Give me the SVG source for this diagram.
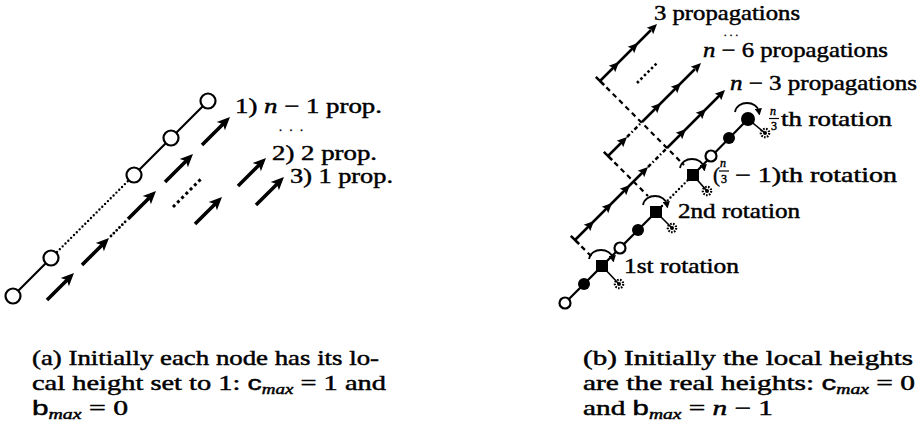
<svg xmlns="http://www.w3.org/2000/svg" xmlns:xlink="http://www.w3.org/1999/xlink" width="923" height="427" viewBox="0 0 923 427">
<style>
.t{font-family:"Liberation Serif","Times New Roman",serif;font-size:21px;fill:#000;stroke:#000;stroke-width:0.45}
.it{font-style:italic}
.sub{font-size:14px;font-style:italic}
.sf{font-family:"Liberation Sans",Arial,sans-serif}
.fr{font-size:12px}
.el{font-size:12px}
.ln{stroke:#000;stroke-width:2.2;fill:none}
.dot{stroke:#000;stroke-width:2.4;stroke-linecap:round;stroke-dasharray:0 4;fill:none}
.arL{stroke:#000;stroke-width:3.6;fill:none}
.pr{stroke:#000;stroke-width:2.5;fill:none}
.dd{stroke:#000;stroke-width:2.5;fill:none;stroke-dasharray:4 2.5 1.5 2.5}
.da{stroke:#000;stroke-width:2.2;fill:none;stroke-dasharray:5 4}
.oc{fill:#fff;stroke:#000;stroke-width:2.2}
.fc{fill:#000}
.arc{stroke:#000;stroke-width:1.8;fill:none;marker-end:url(#rh)}
</style>
<defs>
<path id="hL" d="M0,0 L-13,-5.8 L-10,0 L-13,5.8 Z" fill="#000"/>
<path id="hR" d="M0,0 L-10,-4.6 L-8,0 L-10,4.6 Z" fill="#000"/>
<marker id="rh" viewBox="0 0 8 8" refX="4" refY="4" markerWidth="7" markerHeight="7" markerUnits="userSpaceOnUse" orient="auto"><path d="M0,0 L8,4 L0,8 Z" fill="#000"/></marker>
<g id="gear"><circle r="4.2" fill="none" stroke="#000" stroke-width="2.2" stroke-dasharray="1.6 1.3"/><circle r="2" fill="#000"/></g>
</defs>

<!-- ===== (a) left diagram ===== -->
<g id="connectors-a">
  <line class="ln" x1="13" y1="296" x2="51" y2="258"/>
  <line class="dot" x1="57" y1="252" x2="129" y2="180"/>
  <line class="ln" x1="134" y1="175" x2="208" y2="101"/>
  <!-- row 1 : n-1 prop. -->
  <line class="arL" x1="47" y1="300" x2="67.6" y2="279.4"/><use xlink:href="#hL" transform="translate(74,273) rotate(-45)"/>
  <line class="arL" x1="82" y1="265" x2="102.6" y2="244.4"/><use xlink:href="#hL" transform="translate(109,238) rotate(-45)"/>
  <line class="dot" x1="111" y1="236" x2="127" y2="220" style="stroke-width:2.8"/>
  <line class="arL" x1="128" y1="219" x2="149.6" y2="197.4"/><use xlink:href="#hL" transform="translate(156,191) rotate(-45)"/>
  <line class="arL" x1="165" y1="182" x2="186.6" y2="160.4"/><use xlink:href="#hL" transform="translate(193,154) rotate(-45)"/>
  <line class="arL" x1="202" y1="145" x2="223.6" y2="123.4"/><use xlink:href="#hL" transform="translate(230,117) rotate(-45)"/>
  <!-- ellipsis between rows -->
  <line x1="173" y1="207" x2="202" y2="178" style="stroke:#000;stroke-width:3;stroke-dasharray:3 3"/>
  <!-- row 2 : 2 prop. -->
  <line class="arL" x1="195" y1="224" x2="215.6" y2="203.4"/><use xlink:href="#hL" transform="translate(222,197) rotate(-45)"/>
  <line class="arL" x1="238" y1="186" x2="259.6" y2="164.4"/><use xlink:href="#hL" transform="translate(266,158) rotate(-45)"/>
  <!-- row 3 : 1 prop. -->
  <line class="arL" x1="256" y1="205" x2="277.6" y2="183.4"/><use xlink:href="#hL" transform="translate(284,177) rotate(-45)"/>
</g>
<g id="a-node1"><circle class="oc" cx="13" cy="296" r="7.5"/></g>
<g id="a-node2"><circle class="oc" cx="51" cy="258" r="7.5"/></g>
<g id="a-node3"><circle class="oc" cx="134" cy="175" r="7.5"/></g>
<g id="a-node4"><circle class="oc" cx="171" cy="138" r="7.5"/></g>
<g id="a-node5"><circle class="oc" cx="208" cy="101" r="7.5"/></g>
<g id="a-labels">
  <text class="t" x="235" y="113" textLength="147" lengthAdjust="spacingAndGlyphs">1) <tspan class="it">n</tspan> − 1 prop.</text>
  <text class="t el" x="279" y="131" textLength="24" lengthAdjust="spacing">...</text>
  <text class="t" x="272" y="160" textLength="105" lengthAdjust="spacingAndGlyphs">2) 2 prop.</text>
  <text class="t" x="290" y="183" textLength="103" lengthAdjust="spacingAndGlyphs">3) 1 prop.</text>
</g>

<!-- ===== (b) right diagram ===== -->
<g id="connectors-b">
  <!-- node chain -->
  <line class="ln" x1="565" y1="303" x2="656" y2="212"/>
  <line class="dot" x1="662" y1="206" x2="688" y2="180"/>
  <line class="ln" x1="693" y1="175" x2="748" y2="119"/>
  <!-- dashed links rotation -> propagation start -->
  <line class="da" x1="600" y1="81" x2="684" y2="165"/>
  <line class="da" x1="608" y1="156" x2="648" y2="196"/>
  <line class="da" x1="575" y1="240" x2="593" y2="258"/>
  <!-- T-bars -->
  <line class="pr" x1="595.8" y1="76.8" x2="604.2" y2="85.2"/>
  <line class="pr" x1="603.8" y1="151.8" x2="612.2" y2="160.2"/>
  <line class="pr" x1="570.8" y1="235.8" x2="579.2" y2="244.2"/>
  <!-- 3 propagations -->
  <line class="pr" x1="600" y1="81" x2="651" y2="30"/>
  <use xlink:href="#hR" transform="translate(619,62) rotate(-45)"/>
  <use xlink:href="#hR" transform="translate(638,43) rotate(-45)"/>
  <use xlink:href="#hR" transform="translate(657,24) rotate(-45)"/>
  <line x1="637" y1="83" x2="657" y2="63" style="stroke:#000;stroke-width:2.6;stroke-dasharray:2.5 2.5"/>
  <!-- n-6 propagations -->
  <line class="pr" x1="608" y1="156" x2="623" y2="141"/>
  <use xlink:href="#hR" transform="translate(627,137) rotate(-45)"/>
  <line class="dd" x1="627" y1="137" x2="642" y2="122"/>
  <line class="pr" x1="642" y1="122" x2="695" y2="69"/>
  <use xlink:href="#hR" transform="translate(661,103) rotate(-45)"/>
  <use xlink:href="#hR" transform="translate(681,83) rotate(-45)"/>
  <use xlink:href="#hR" transform="translate(701,63) rotate(-45)"/>
  <!-- n-3 propagations -->
  <line class="pr" x1="575" y1="240" x2="644" y2="171"/>
  <use xlink:href="#hR" transform="translate(594,221) rotate(-45)"/>
  <use xlink:href="#hR" transform="translate(612,203) rotate(-45)"/>
  <use xlink:href="#hR" transform="translate(630,185) rotate(-45)"/>
  <use xlink:href="#hR" transform="translate(648,167) rotate(-45)"/>
  <line class="dd" x1="648" y1="167" x2="667" y2="148"/>
  <line class="pr" x1="667" y1="148" x2="720" y2="95"/>
  <use xlink:href="#hR" transform="translate(686,129) rotate(-45)"/>
  <use xlink:href="#hR" transform="translate(706,109) rotate(-45)"/>
  <use xlink:href="#hR" transform="translate(725,90) rotate(-45)"/>
  <!-- links to rotated children -->
  <line class="ln" x1="602" y1="266" x2="619" y2="284" style="stroke-width:1.6"/>
  <line class="ln" x1="656" y1="212" x2="672" y2="228" style="stroke-width:1.6"/>
  <line class="ln" x1="693" y1="175" x2="707" y2="191" style="stroke-width:1.6"/>
  <line class="ln" x1="748" y1="119" x2="765" y2="133" style="stroke-width:1.6"/>
  <!-- rotation arcs -->
  <path class="arc" d="M589,259 C591,247 611,247 613,259"/>
  <path class="arc" d="M643,205 C645,193 665,193 667,205"/>
  <path class="arc" d="M680,168 C682,156 702,156 704,168"/>
  <path class="arc" d="M735,112 C737,100 757,100 759,112"/>
</g>
<g id="b-node1"><circle class="oc" cx="565" cy="303" r="5.5"/></g>
<g id="b-node2"><circle class="fc" cx="584" cy="284" r="6"/></g>
<g id="b-node3"><rect class="fc" x="596" y="260" width="12" height="12"/><use xlink:href="#gear" x="619" y="284"/></g>
<g id="b-node4"><circle class="oc" cx="620" cy="248" r="5.5"/></g>
<g id="b-node5"><circle class="fc" cx="638" cy="230" r="6"/></g>
<g id="b-node6"><rect class="fc" x="650" y="206" width="12" height="12"/><use xlink:href="#gear" x="672" y="228"/></g>
<g id="b-node7"><rect class="fc" x="687" y="169" width="12" height="12"/><use xlink:href="#gear" x="707" y="191"/></g>
<g id="b-node8"><circle class="oc" cx="711" cy="156" r="5.5"/></g>
<g id="b-node9"><circle class="fc" cx="729" cy="138" r="6"/></g>
<g id="b-node10"><circle class="fc" cx="748" cy="119" r="7"/><use xlink:href="#gear" x="765" y="133"/></g>
<g id="b-labels">
  <text class="t" x="654" y="20" textLength="146" lengthAdjust="spacingAndGlyphs">3 propagations</text>
  <text class="t" x="724" y="35.5" textLength="14" lengthAdjust="spacing" style="font-size:10px">...</text>
  <text class="t" x="703" y="57" textLength="185" lengthAdjust="spacingAndGlyphs"><tspan class="it">n</tspan> − 6 propagations</text>
  <text class="t" x="730" y="90" textLength="187" lengthAdjust="spacingAndGlyphs"><tspan class="it">n</tspan> − 3 propagations</text>
  <text class="t fr it" x="770" y="115">n</text>
  <line x1="769" y1="118.5" x2="779" y2="118.5" stroke="#000" stroke-width="1.2"/>
  <text class="t fr" x="771" y="130">3</text>
  <text class="t" x="781" y="126" textLength="111" lengthAdjust="spacingAndGlyphs">th rotation</text>
  <text class="t" x="713" y="182">(</text>
  <text class="t fr it" x="720" y="167">n</text>
  <line x1="719" y1="171" x2="729" y2="171" stroke="#000" stroke-width="1.2"/>
  <text class="t fr" x="721" y="183">3</text>
  <text class="t" x="735" y="182" textLength="162" lengthAdjust="spacingAndGlyphs">− 1)th rotation</text>
  <text class="t" x="678" y="218" textLength="122" lengthAdjust="spacingAndGlyphs">2nd rotation</text>
  <text class="t" x="624" y="273" textLength="115" lengthAdjust="spacingAndGlyphs">1st rotation</text>
</g>

<!-- ===== captions ===== -->
<g id="caption-a">
  <text class="t" x="32" y="365" textLength="347" lengthAdjust="spacingAndGlyphs">(a) Initially each node has its lo-</text>
  <text class="t" x="32" y="390" textLength="354" lengthAdjust="spacingAndGlyphs">cal height set to 1: <tspan class="sf">c</tspan><tspan class="sub" dy="4">max</tspan><tspan dy="-4"> = 1 and</tspan></text>
  <text class="t" x="32" y="415" textLength="96" lengthAdjust="spacingAndGlyphs"><tspan class="sf">b</tspan><tspan class="sub" dy="4">max</tspan><tspan dy="-4"> = 0</tspan></text>
</g>
<g id="caption-b">
  <text class="t" x="583" y="365" textLength="330" lengthAdjust="spacingAndGlyphs">(b) Initially the local heights</text>
  <text class="t" x="583" y="390" textLength="332" lengthAdjust="spacingAndGlyphs">are the real heights: <tspan class="sf">c</tspan><tspan class="sub" dy="4">max</tspan><tspan dy="-4"> = 0</tspan></text>
  <text class="t" x="583" y="415" textLength="190" lengthAdjust="spacingAndGlyphs">and <tspan class="sf">b</tspan><tspan class="sub" dy="4">max</tspan><tspan dy="-4"> = <tspan class="it">n</tspan> − 1</tspan></text>
</g>
</svg>
